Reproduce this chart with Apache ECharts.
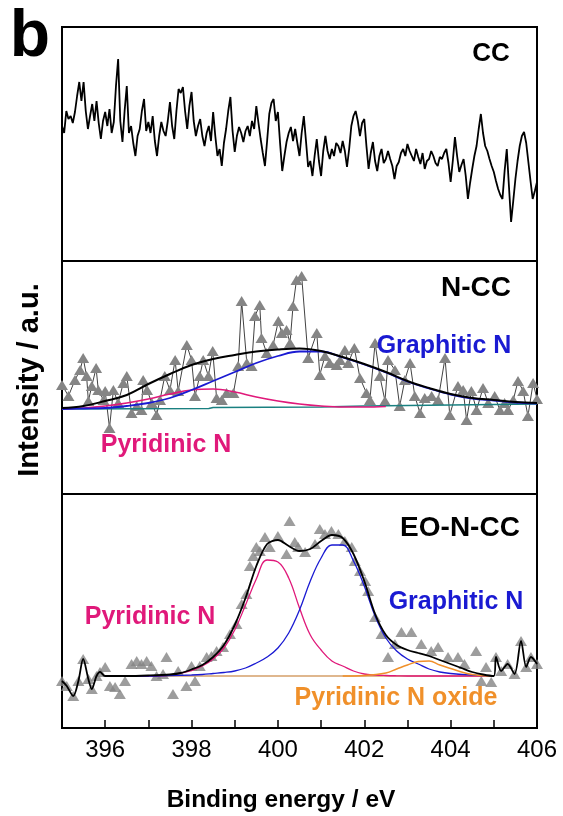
<!DOCTYPE html>
<html>
<head>
<meta charset="utf-8">
<script src="https://cdn.jsdelivr.net/npm/echarts@6/dist/echarts.min.js"></script>
<style>
  html, body { margin: 0; padding: 0; background: #fff; }
  #chart { width: 563px; height: 816px; }
</style>
</head>
<body>
<div id="chart"></div>
<script>
// ---- N 1s XPS spectra: CC, N-CC, EO-N-CC ----
const xTicks = [396, 398, 400, 402, 404, 406];

// CC raw spectrum, recorded on a 0.05 eV grid from 395.0 eV
const ccStart = 395.0;
const ccStep = 0.05;
const ccIntensity = [
  135,128,150,142,145,138,149,165,179,160,179,150,132,145,157,140,160,138,122,140,
  149,135,152,128,139,175,202,140,119,150,175,128,135,118,105,125,132,150,162,130,
  139,128,145,120,105,125,139,130,125,140,159,135,122,150,172,168,174,150,132,155,
  169,140,125,135,142,125,115,128,135,120,149,125,105,112,95,118,132,150,164,130,
  109,125,134,128,119,130,135,125,140,132,155,138,122,108,95,120,147,158,162,140,
  149,118,90,105,119,128,134,120,132,118,105,128,145,120,94,100,85,105,122,100,
  85,110,125,110,102,112,105,118,115,108,120,110,94,112,135,145,150,140,125,138,
  142,115,92,108,119,100,90,105,112,98,102,110,102,95,82,95,99,108,112,105,
  117,110,105,100,112,104,97,108,92,100,102,110,105,98,95,104,102,108,112,98,
  79,100,124,105,89,96,102,85,62,78,92,105,115,132,147,128,115,110,102,95,
  89,80,72,66,62,90,112,75,39,60,82,100,115,125,129,118,99,80,62,70,
  79
];
const ccEnergy = ccIntensity.map((_, i) => +(ccStart + ccStep * i).toFixed(2));

// N-CC measured points
const nccEnergy = [
  395.0,395.15,395.3,395.42,395.49,395.57,395.61,395.69,395.79,395.84,395.96,396.0,
  396.1,396.19,396.3,396.42,396.5,396.61,396.73,396.84,396.88,396.97,397.08,397.19,
  397.27,397.38,397.5,397.62,397.69,397.89,398.0,398.08,398.19,398.27,398.39,398.49,
  398.58,398.7,398.81,398.97,399.08,399.16,399.28,399.39,399.47,399.58,399.62,399.74,
  399.89,400.01,400.09,400.2,400.28,400.35,400.43,400.55,400.7,400.9,400.97,401.09,
  401.2,401.36,401.44,401.55,401.63,401.77,401.9,402.05,402.13,402.25,402.36,402.48,
  402.55,402.71,402.82,402.94,403.06,403.17,403.29,403.4,403.56,403.71,403.87,403.98,
  404.17,404.29,404.37,404.48,404.6,404.75,404.87,405.02,405.14,405.25,405.33,405.45,
  405.56,405.68,405.79,405.91,406.0
];
const nccIntensity = [
  109,98,114,124,136,118,93,108,126,104,94,103,
  66,104,91,111,118,81,88,84,114,104,91,79,
  94,118,104,134,103,149,134,98,118,134,118,143,
  96,94,101,101,128,193,131,128,178,189,156,141,
  149,173,161,164,151,188,214,218,136,161,119,138,
  131,129,134,144,131,146,116,101,94,151,118,93,
  134,124,88,114,131,98,81,96,98,94,136,79,
  108,104,74,103,84,106,91,98,84,91,84,94,
  113,103,78,111,95
];

// N-CC fitted components (0.5 eV steps)
const nccFitEnergy = [
  395.0,395.5,396.0,396.5,397.0,397.5,398.0,398.5,399.0,399.5,400.0,400.5,
  401.0,401.5,402.0,402.5,403.0,403.5,404.0,404.5,405.0,405.5,406.0
];
const nccEnvelope  = [86,88,93,99,110,120,129,135,139,142.5,144.5,145.5,143,137,130,122,113,106,100,96,94,92,91];
const nccGraphitic = [85,85.5,86,88,91,96,104,113,122,131,138,142.5,142.5,136.5,129.5,121.5,112.5,105.5,99.5,95.5,93.5,91.5,90.5];
const nccPyridinicEnergy = [395.0,395.5,396.0,396.5,397.0,397.5,398.0,398.5,399.0,399.5,400.0,400.5,401.0,401.5,402.0,402.5];
const nccPyridinic = [85,86,88,91,95,100,104,105,102,97,93,90,88,87,87,87.5];
const nccBaseEnergy = [395.0, 398.4, 398.5, 401.0, 402.0, 406.0];
const nccBaseline = [85, 85.5, 86.5, 87, 88, 90];

// EO-N-CC measured points
const eoEnergy = [
  395.0,395.11,395.26,395.38,395.49,395.61,395.69,395.8,395.88,
  396.0,396.11,396.23,396.34,396.46,396.61,396.73,396.84,396.96,397.07,397.19,
  397.34,397.42,397.57,397.69,397.88,398.0,398.08,398.19,398.35,398.46,398.58,
  398.73,398.89,399.04,399.16,399.27,399.35,399.43,399.5,399.58,399.7,399.81,
  400.0,400.2,400.27,400.39,400.47,400.63,400.86,400.97,401.09,401.24,401.4,
  401.55,401.71,401.78,401.9,402.02,402.09,402.25,402.4,402.55,402.71,402.86,
  403.09,403.32,403.55,403.71,403.94,404.17,404.32,404.59,404.71,404.82,404.94,
  405.05,405.17,405.32,405.48,405.63,405.75,405.86,406.0
];
const eoIntensity = [
  47,42,32,47,69,49,39,52,56,
  61,42,41,34,47,64,67,64,67,62,52,
  54,71,34,57,42,62,47,62,71,72,77,
  81,94,104,124,134,162,172,181,177,191,181,
  192,174,207,186,181,176,184,199,194,197,194,
  187,181,167,157,147,137,111,94,71,84,96,
  96,84,77,81,71,71,64,77,47,61,46,
  71,57,64,54,87,61,71,64
];

// EO-N-CC fit: envelope with the raw trace outside the fitted window
const eoEnvEnergy = [
  395.0,395.11,395.26,395.38,395.49,395.61,395.69,395.8,395.88,
  396.0,396.5,397.0,397.5,397.75,398.0,398.25,398.5,398.75,399.0,399.25,399.5,399.75,
  400.0,400.25,400.5,400.75,401.0,401.25,401.5,401.75,402.0,402.25,402.5,402.75,
  403.0,403.25,403.5,403.75,404.0,404.25,404.5,404.75,405.0,
  405.05,405.17,405.32,405.48,405.63,405.75,405.86,406.0
];
const eoEnvelope = [
  47,42,32,47,69,49,39,52,56,
  52,52,52.5,53.5,55,58.5,63,71,83,103,130,162,184,
  188,182,177,179,187,193,190,174,147,114,93,83,
  78,75,72,68,64,60,56,53.5,52,
  71,57,64,54,87,61,71,64
];
const eoFitEnergy = [
  396.0,397.0,397.5,398.0,398.25,398.5,398.75,399.0,399.25,399.5,399.75,
  400.0,400.25,400.5,400.75,401.0,401.25,401.5,401.75,402.0,402.25,402.5,402.75,
  403.0,403.25,403.5,403.75,404.0,404.5,405.0
];
const eoPyridinic = [
  52,52,53,57.5,62,69,80,98,123,149,168,
  166,150,120,93,78,67,62,57,54,53,52.5,52.2,
  52,52,52,52,52,52,52
];
const eoGraphitic = [
  52,52,52.5,53,53.5,54.5,55.5,57,60,65,71,
  80,95,118,147,170,183,183,167,142,112,90,77,
  69,64,59,56,54.5,53,52
];
const eoOxideEnergy = [401.5,402.0,402.5,402.75,403.0,403.25,403.5,403.75,404.0,404.25,404.5,404.75,405.0];
const eoOxide = [52,52.5,55,59,63,66.5,67,63,59.5,56,53.5,52.2,52];
const eoBaseEnergy = [396.0, 405.0];
const eoBaseline = [52, 52];

// ---- helpers ----
const pairs = (xs, ys) => xs.map((x, i) => [x, ys[i]]);
const FONT = '"Liberation Sans", Arial, sans-serif';
const PINK = '#e0197a';
const BLUE = '#1a1ad2';
const ORANGE = '#f0902a';
const TEAL = '#1a8080';
const GREY = '#858585';

const chart = echarts.init(document.getElementById('chart'), null, { renderer: 'canvas' });

const panels = [
  { top: 27, height: 234, yMax: 234 },
  { top: 261, height: 233, yMax: 233 },
  { top: 494, height: 234, yMax: 234 }
];

const grids = panels.map(p => ({
  left: 62, width: 475, top: p.top, height: p.height,
  show: true, borderColor: '#000', borderWidth: 2, backgroundColor: 'transparent',
  containLabel: false
}));

const xAxes = panels.map((p, i) => {
  const bottom = i === 2;
  return {
    type: 'value', gridIndex: i, min: 395, max: 406, interval: 1,
    axisLine: { show: false },
    splitLine: { show: false },
    axisTick: bottom ? { show: true, inside: true, length: 8, lineStyle: { color: '#000', width: 1.5 } } : { show: false },
    axisLabel: bottom ? {
      show: true, fontSize: 24, color: '#000', fontFamily: FONT, margin: 10,
      formatter: v => (xTicks.indexOf(v) >= 0 ? String(v) : '')
    } : { show: false }
  };
});

const yAxes = panels.map((p, i) => ({
  type: 'value', gridIndex: i, min: 0, max: p.yMax, show: false
}));

const lineBase = { type: 'line', showSymbol: false, animation: false, silent: true };

const series = [
  // CC
  Object.assign({}, lineBase, {
    xAxisIndex: 0, yAxisIndex: 0, data: pairs(ccEnergy, ccIntensity),
    lineStyle: { color: '#000', width: 1.8 }
  }),
  // N-CC measured
  {
    type: 'line', xAxisIndex: 1, yAxisIndex: 1, data: pairs(nccEnergy, nccIntensity),
    symbol: 'triangle', symbolSize: [12, 10], showSymbol: true, animation: false, silent: true,
    itemStyle: { color: GREY }, lineStyle: { color: '#111', width: 0.8 }, z: 2
  },
  Object.assign({}, lineBase, {
    xAxisIndex: 1, yAxisIndex: 1, data: pairs(nccBaseEnergy, nccBaseline),
    lineStyle: { color: TEAL, width: 1.6 }, z: 3
  }),
  Object.assign({}, lineBase, {
    xAxisIndex: 1, yAxisIndex: 1, data: pairs(nccPyridinicEnergy, nccPyridinic), smooth: 0.4,
    lineStyle: { color: PINK, width: 1.6 }, z: 4
  }),
  Object.assign({}, lineBase, {
    xAxisIndex: 1, yAxisIndex: 1, data: pairs(nccFitEnergy, nccGraphitic), smooth: 0.4,
    lineStyle: { color: BLUE, width: 1.8 }, z: 4
  }),
  Object.assign({}, lineBase, {
    xAxisIndex: 1, yAxisIndex: 1, data: pairs(nccFitEnergy, nccEnvelope), smooth: 0.4,
    lineStyle: { color: '#000', width: 2 }, z: 5
  }),
  // EO-N-CC measured
  {
    type: 'scatter', xAxisIndex: 2, yAxisIndex: 2, data: pairs(eoEnergy, eoIntensity),
    symbol: 'triangle', symbolSize: [12, 10], animation: false, silent: true,
    itemStyle: { color: GREY }, z: 2
  },
  Object.assign({}, lineBase, {
    xAxisIndex: 2, yAxisIndex: 2, data: pairs(eoBaseEnergy, eoBaseline),
    lineStyle: { color: '#c0701e', width: 1.2 }, z: 3
  }),
  Object.assign({}, lineBase, {
    xAxisIndex: 2, yAxisIndex: 2, data: pairs(eoFitEnergy, eoPyridinic), smooth: 0.4,
    lineStyle: { color: PINK, width: 1.3 }, z: 4
  }),
  Object.assign({}, lineBase, {
    xAxisIndex: 2, yAxisIndex: 2, data: pairs(eoFitEnergy, eoGraphitic), smooth: 0.4,
    lineStyle: { color: BLUE, width: 1.3 }, z: 4
  }),
  Object.assign({}, lineBase, {
    xAxisIndex: 2, yAxisIndex: 2, data: pairs(eoOxideEnergy, eoOxide), smooth: 0.4,
    lineStyle: { color: ORANGE, width: 1.5 }, z: 4
  }),
  Object.assign({}, lineBase, {
    xAxisIndex: 2, yAxisIndex: 2, data: pairs(eoEnvEnergy, eoEnvelope), smooth: 0.3,
    lineStyle: { color: '#000', width: 1.8 }, z: 5
  })
];

function label(text, x, y, opts) {
  return {
    type: 'text', x: x, y: y, z: 100,
    style: Object.assign({
      text: text, fontFamily: FONT, fontSize: 25, fontWeight: 'bold', fill: '#000',
      textAlign: 'center', textVerticalAlign: 'middle'
    }, opts || {})
  };
}

const graphic = [
  label('b', 30, 38, { fontSize: 66 }),
  label('CC', 491, 54, { fontSize: 26 }),
  label('N-CC', 476, 288, { fontSize: 28 }),
  label('EO-N-CC', 460, 528, { fontSize: 28 }),
  label('Graphitic N', 444, 346, { fill: BLUE }),
  label('Pyridinic N', 166, 445, { fill: PINK }),
  label('Pyridinic N', 150, 617, { fill: PINK }),
  label('Graphitic N', 456, 602, { fill: BLUE }),
  label('Pyridinic N oxide', 396, 698, { fill: ORANGE }),
  label('Binding energy / eV', 281, 800, { fontSize: 24.5 }),
  {
    type: 'text', x: 30, y: 380, rotation: Math.PI / 2, z: 100,
    style: {
      text: 'Intensity / a.u.', fontFamily: FONT, fontSize: 29, fontWeight: 'bold', fill: '#000',
      textAlign: 'center', textVerticalAlign: 'middle'
    }
  }
];

chart.setOption({
  animation: false,
  backgroundColor: '#fff',
  grid: grids,
  xAxis: xAxes,
  yAxis: yAxes,
  series: series,
  graphic: graphic
});
</script>
</body>
</html>
